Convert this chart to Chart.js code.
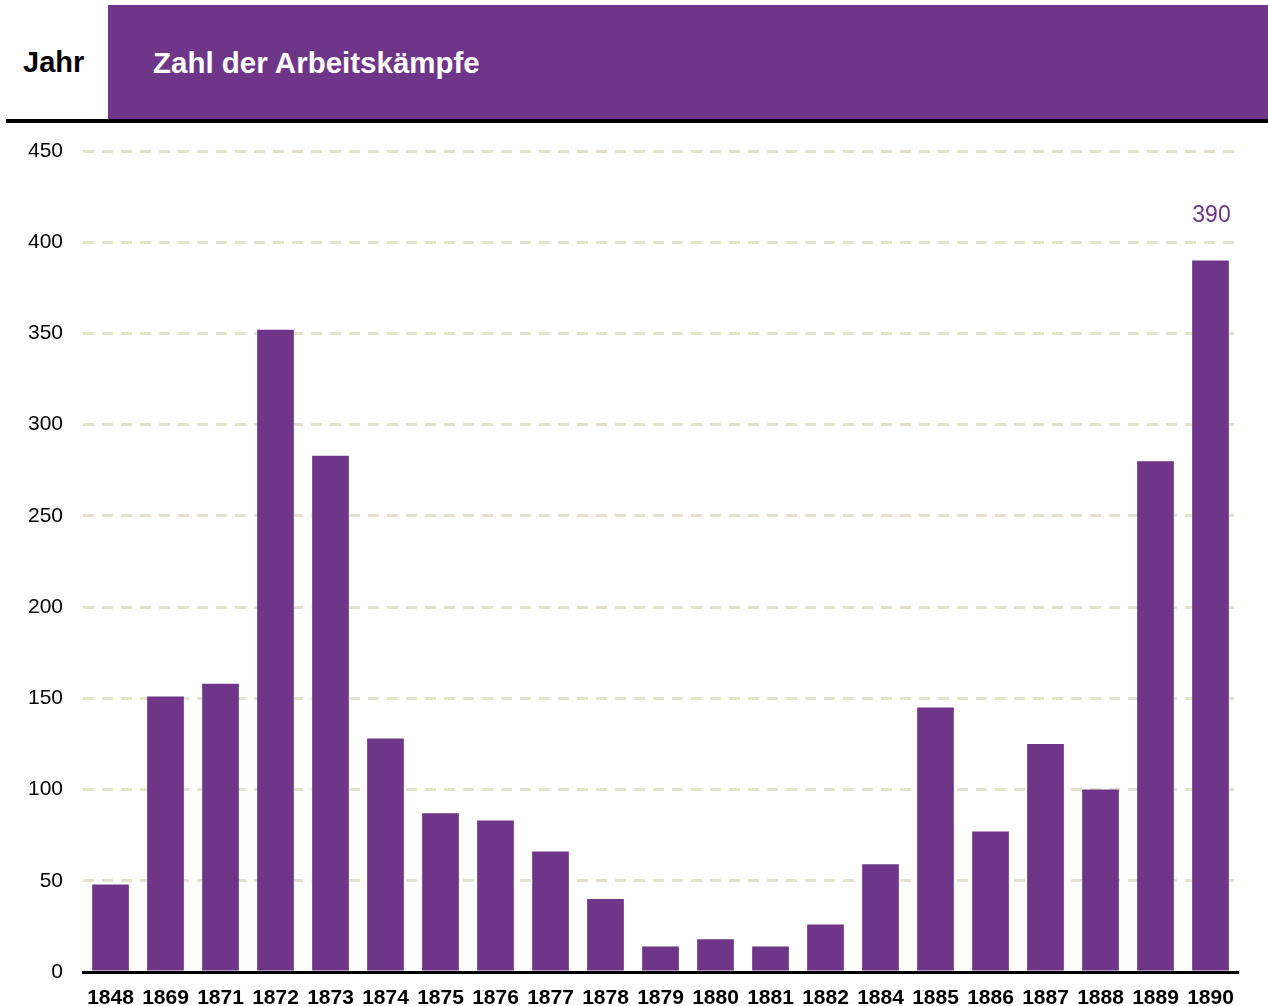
<!DOCTYPE html>
<html>
<head>
<meta charset="utf-8">
<script src="https://cdn.jsdelivr.net/npm/chart.js@4/dist/chart.umd.min.js"></script>
<style>
  body { margin: 0; background: #fff; font-family: "Liberation Sans", Arial, sans-serif; }
  #wrap { position: relative; width: 1268px; height: 1006px; }
  #jahr { position: absolute; left: 23px; top: 46px; font-size: 29px; font-weight: bold; color: #000; }
  #head { position: absolute; left: 108px; top: 5px; width: 1160px; height: 114px; background: #6e3589; }
  #head span { position: absolute; left: 45px; top: 41px; font-size: 29.5px; font-weight: bold; color: #fff; }
  #rule { position: absolute; left: 6px; top: 119px; width: 1262px; height: 4px; background: #000; }
  canvas { position: absolute; left: 0; top: 0; }
</style>
</head>
<body>
<div id="wrap">
  <div id="jahr">Jahr</div>
  <div id="head"><span>Zahl der Arbeitskämpfe</span></div>
  <div id="rule"></div>
  <canvas id="chart" width="1268" height="1006"></canvas>
</div>
<script>
const years = ['1848','1869','1871','1872','1873','1874','1875','1876','1877','1878','1879',
               '1880','1881','1882','1884','1885','1886','1887','1888','1889','1890'];
const streiks = [48, 151, 158, 352, 283, 128, 87, 83, 66, 40, 14, 18, 14, 26, 59, 145, 77, 125, 100, 280, 390];
const yTicks = [0, 50, 100, 150, 200, 250, 300, 350, 400, 450];
const purple = '#6e3589';

// value label only on the last bar
const lastLabel = {
  id: 'lastLabel',
  afterDatasetsDraw(chart) {
    const meta = chart.getDatasetMeta(0);
    const i = streiks.length - 1;
    const bar = meta.data[i];
    const ctx = chart.ctx;
    ctx.save();
    ctx.fillStyle = purple;
    ctx.font = '23px "Liberation Sans", Arial, sans-serif';
    ctx.textAlign = 'center';
    ctx.textBaseline = 'middle';
    ctx.fillText(String(streiks[i]), bar.x + 1, bar.y - 45);
    ctx.restore();
  }
};

new Chart(document.getElementById('chart'), {
  type: 'bar',
  data: {
    labels: years,
    datasets: [{
      data: streiks,
      backgroundColor: purple,
      categoryPercentage: 1,
      barPercentage: 0.667
    }]
  },
  options: {
    responsive: false,
    animation: false,
    layout: { padding: { top: 151, right: 30, left: 0, bottom: 0 } },
    plugins: {
      legend: { display: false },
      tooltip: { enabled: false }
    },
    scales: {
      x: {
        grid: { display: false },
        border: { display: true, color: '#000', width: 3 },
        afterFit(scale) { scale.height = 34; },
        ticks: {
          color: '#000',
          padding: 6,
          maxRotation: 0,
          autoSkip: false,
          font: { family: '"Liberation Sans", Arial, sans-serif', size: 21, weight: 'bold' }
        }
      },
      y: {
        min: 0,
        max: 450,
        afterFit(scale) { scale.width = 83; },
        afterBuildTicks(scale) { scale.ticks = yTicks.map(v => ({ value: v })); },
        border: { display: false, dash: [11, 8] },
        grid: { color: '#e4e2cc', lineWidth: 3, drawTicks: false },
        ticks: {
          color: '#000',
          padding: 20,
          font: { family: '"Liberation Sans", Arial, sans-serif', size: 21 }
        }
      }
    }
  },
  plugins: [lastLabel]
});
</script>
</body>
</html>
